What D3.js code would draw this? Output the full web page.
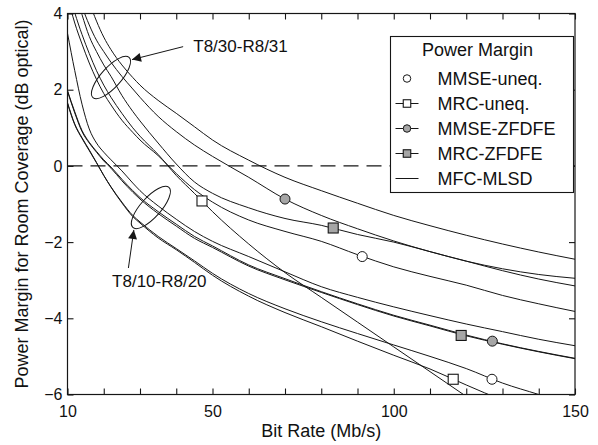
<!DOCTYPE html>
<html><head><meta charset="utf-8">
<script src="https://cdn.jsdelivr.net/npm/d3@7"></script>
<style>
body{margin:0;background:#fff}
svg{display:block}
text{font-family:"Liberation Sans",Arial,Helvetica,sans-serif;fill:#111}
</style>
</head><body>
<svg id="chart" width="598" height="445"></svg>
<script>
// ---------- data ----------
const bitRate = [10,12,14,16,18,20,22,25,28,30,35,40,45,50,60,70,80,90,100,110,120,130,140,150];

// T8/30-R8/31 configuration
const upMFC_MLSD  = [6.2,5.5,4.85,4.3,3.8,3.38,3.05,2.65,2.32,2.12,1.72,1.38,1.03,0.68,0.15,-0.3,-0.65,-0.98,-1.3,-1.57,-1.82,-2.05,-2.26,-2.45];
const upMMSE_ZF   = [5.6,4.9,4.2,3.7,3.3,3.0,2.72,2.35,2.02,1.8,1.3,0.9,0.55,0.25,-0.3,-0.87,-1.3,-1.65,-1.97,-2.25,-2.5,-2.75,-2.97,-3.15];
const upMRC_ZF    = [5.4,4.65,3.97,3.4,3.0,2.65,2.35,1.85,1.43,1.18,0.6,0.05,-0.42,-0.72,-1.1,-1.38,-1.56,-1.8,-2.0,-2.25,-2.5,-2.7,-2.85,-2.95];
const upMMSE_uneq = [4.45,3.75,3.2,2.7,2.27,1.9,1.6,1.2,0.88,0.68,0.27,-0.2,-0.62,-0.95,-1.42,-1.72,-1.98,-2.33,-2.65,-2.9,-3.13,-3.4,-3.62,-3.82];
const upMRC_uneq  = [4.7,4.02,3.45,2.95,2.5,2.12,1.8,1.38,1.0,0.78,0.3,-0.25,-0.72,-1.2,-2.05,-2.8,-3.45,-4.1,-4.75,-5.4,-6.05,-6.7,-7.3,-7.9];

// T8/10-R8/20 configuration
const loMFC_MLSD  = [3.48,2.5,1.62,0.97,0.6,0.36,0.16,-0.13,-0.45,-0.65,-1.05,-1.4,-1.72,-1.98,-2.38,-2.78,-3.17,-3.45,-3.7,-3.93,-4.15,-4.35,-4.55,-4.72];
const loMMSE_ZF   = [1.98,1.42,0.93,0.62,0.38,0.16,-0.03,-0.35,-0.65,-0.83,-1.2,-1.53,-1.85,-2.1,-2.6,-2.96,-3.3,-3.62,-3.92,-4.18,-4.44,-4.67,-4.87,-5.05];
const loMRC_ZF    = [1.95,1.39,0.9,0.6,0.36,0.13,-0.06,-0.39,-0.69,-0.87,-1.25,-1.58,-1.9,-2.14,-2.63,-2.99,-3.32,-3.64,-3.94,-4.2,-4.46,-4.68,-4.88,-5.06];
const loMMSE_uneq = [1.64,1.08,0.72,0.4,0.08,-0.25,-0.55,-0.95,-1.3,-1.47,-1.85,-2.17,-2.49,-2.82,-3.35,-3.75,-4.09,-4.4,-4.7,-5.0,-5.32,-5.7,-6.0,-6.3];
const loMRC_uneq  = [1.66,1.1,0.74,0.42,0.09,-0.25,-0.56,-0.97,-1.33,-1.5,-1.89,-2.2,-2.53,-2.87,-3.42,-3.85,-4.22,-4.6,-4.97,-5.33,-5.75,-6.15,-6.5,-6.85];

const curveSeries = [upMFC_MLSD, upMMSE_ZF, upMRC_ZF, upMMSE_uneq, upMRC_uneq,
                     loMFC_MLSD, loMMSE_ZF, loMRC_ZF, loMMSE_uneq, loMRC_uneq];

// identification markers placed on the curves
const markerRate   = [47.1, 70.0, 83.3, 91.3, 118.6, 127.2, 116.4, 127.1];
const markerMargin = [-0.92, -0.87, -1.63, -2.38, -4.45, -4.6, -5.6, -5.6];
const markerKind   = ["MRC-uneq.","MMSE-ZFDFE","MRC-ZFDFE","MMSE-uneq.","MRC-ZFDFE","MMSE-ZFDFE","MRC-uneq.","MMSE-uneq."];

const legendTitle = "Power Margin";
const legendNames = ["MMSE-uneq.","MRC-uneq.","MMSE-ZFDFE","MRC-ZFDFE","MFC-MLSD"];

const xTicks = [10,20,30,40,50,60,70,80,90,100,110,120,130,140,150];
const xTickLabels = [10,50,100,150];
const yTicks = [-6,-4,-2,0,2,4];

// ---------- layout ----------
const svg = d3.select("#chart");
const L = 67.5, R = 575, T = 13.5, B = 394.5;
const x = d3.scaleLinear().domain([10,150]).range([L,R]);
const y = d3.scaleLinear().domain([-6,4]).range([B,T]);
const ink = "#161616";

svg.append("rect").attr("width",598).attr("height",445).attr("fill","#fff");

svg.append("defs").append("clipPath").attr("id","clip")
  .append("rect").attr("x",L).attr("y",T).attr("width",R-L).attr("height",B-T);
svg.select("defs").append("marker").attr("id","arrow")
  .attr("viewBox","0 0 10 10").attr("refX",10).attr("refY",5)
  .attr("markerWidth",11).attr("markerHeight",9).attr("markerUnits","userSpaceOnUse")
  .attr("orient","auto")
  .append("path").attr("d","M0,0L10,5L0,10z").attr("fill",ink);

// zero line
svg.append("line").attr("x1",x(10)).attr("x2",x(150)).attr("y1",y(0)).attr("y2",y(0))
  .attr("stroke",ink).attr("stroke-width",1.1).attr("stroke-dasharray","15,8");

// curves
const line = d3.line().x((d,i)=>x(bitRate[i])).y(d=>y(d)).curve(d3.curveMonotoneX);
const g = svg.append("g").attr("clip-path","url(#clip)");
g.selectAll("path.c").data(curveSeries).join("path").attr("class","c")
  .attr("d",line).attr("fill","none").attr("stroke",ink).attr("stroke-width",1);

// markers
function drawMarker(sel, kind, cx, cy, s){
  const gray = "#a6a6a6";
  if(kind==="MMSE-uneq." || kind==="MMSE-ZFDFE"){
    sel.append("circle").attr("cx",cx).attr("cy",cy).attr("r",s/2)
      .attr("fill", kind==="MMSE-ZFDFE"?gray:"#fff").attr("stroke",ink).attr("stroke-width",1);
  } else {
    sel.append("rect").attr("x",cx-s/2).attr("y",cy-s/2).attr("width",s).attr("height",s)
      .attr("fill", kind==="MRC-ZFDFE"?gray:"#fff").attr("stroke",ink).attr("stroke-width",1.1);
  }
}
const mg = svg.append("g");
markerRate.forEach((r,i)=>drawMarker(mg, markerKind[i], x(r), y(markerMargin[i]), 10));

// frame
svg.append("rect").attr("x",L).attr("y",T).attr("width",R-L).attr("height",B-T)
  .attr("fill","none").attr("stroke",ink).attr("stroke-width",1.2);

// axes
const fmtX = d => xTickLabels.includes(d) ? d : "";
const axB = svg.append("g").attr("transform",`translate(0,${B})`)
  .call(d3.axisBottom(x).tickValues(xTicks).tickSize(-6).tickPadding(11).tickFormat(fmtX));
const axT = svg.append("g").attr("transform",`translate(0,${T})`)
  .call(d3.axisTop(x).tickValues(xTicks).tickSize(-6).tickFormat(""));
const axL = svg.append("g").attr("transform",`translate(${L},0)`)
  .call(d3.axisLeft(y).tickValues(yTicks).tickSize(-6).tickPadding(5).tickFormat(d3.format("d")));
const axR = svg.append("g").attr("transform",`translate(${R},0)`)
  .call(d3.axisRight(y).tickValues(yTicks).tickSize(-6).tickFormat(""));
[axB,axT,axL,axR].forEach(a=>{
  a.select(".domain").remove();
  a.selectAll("line").attr("stroke",ink).attr("stroke-width",1.1);
  a.selectAll("text").attr("font-size",16).attr("fill","#111")
    .style("font-family",'"Liberation Sans",Arial,sans-serif');
});

// axis titles
svg.append("text").attr("x",(L+R)/2).attr("y",437).attr("text-anchor","middle")
  .attr("font-size",18).text("Bit Rate (Mb/s)");
svg.append("text").attr("transform",`translate(28,${(T+B)/2}) rotate(-90)`)
  .attr("text-anchor","middle").attr("font-size",18)
  .text("Power Margin for Room Coverage (dB optical)");

// group annotations
function ell(cxv, cyv){
  svg.append("ellipse").attr("rx",27).attr("ry",10)
    .attr("transform",`translate(${x(cxv)},${y(cyv)}) rotate(-48)`)
    .attr("fill","none").attr("stroke",ink).attr("stroke-width",1);
}
ell(22.0, 2.32);
ell(33.0, -1.09);
svg.append("line").attr("x1",x(41.9)).attr("y1",y(3.13)).attr("x2",x(27.8)).attr("y2",y(2.79))
  .attr("stroke",ink).attr("stroke-width",1).attr("marker-end","url(#arrow)");
svg.append("line").attr("x1",x(26.8)).attr("y1",y(-2.68)).attr("x2",x(28.3)).attr("y2",y(-1.68))
  .attr("stroke",ink).attr("stroke-width",1).attr("marker-end","url(#arrow)");
svg.append("text").attr("x",x(44.7)).attr("y",y(2.98)).attr("font-size",17).text("T8/30-R8/31");
svg.append("text").attr("x",x(22.3)).attr("y",y(-3.17)).attr("font-size",17).text("T8/10-R8/20");

// legend
const lg = svg.append("g").attr("transform","translate(390.5,36.5)");
lg.append("rect").attr("width",183).attr("height",156).attr("fill","#fff")
  .attr("stroke",ink).attr("stroke-width",1.1);
lg.append("text").attr("x",87).attr("y",19).attr("text-anchor","middle")
  .attr("font-size",18).text(legendTitle);
legendNames.forEach((name,i)=>{
  const cy = 42 + i*25;
  if(i>0){
    lg.append("line").attr("x1",5).attr("x2",28).attr("y1",cy).attr("y2",cy)
      .attr("stroke",ink).attr("stroke-width",1);
  }
  if(i<4) drawMarker(lg, name, 16.5, cy, 7.5);
  lg.append("text").attr("x",47).attr("y",cy).attr("dy","0.35em")
    .attr("font-size",18).text(name);
});
</script>
</body></html>
